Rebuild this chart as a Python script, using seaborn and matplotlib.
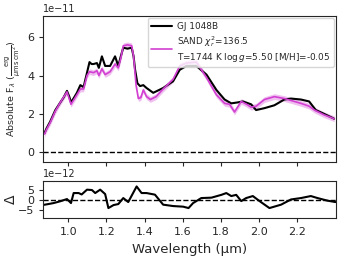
import numpy as np
import pandas as pd
import matplotlib
matplotlib.use('Agg')
import matplotlib.pyplot as plt
import seaborn as sns

# observed spectrum (flux in erg/um/s/cm2)
wave_obs = [0.875, 0.886, 0.905, 0.932, 0.958, 0.975, 0.993, 1.005, 1.014, 1.03,
            1.045, 1.063, 1.08, 1.098, 1.111, 1.122, 1.132, 1.15, 1.16, 1.176,
            1.193, 1.219, 1.232, 1.245, 1.262, 1.275, 1.288, 1.31, 1.332, 1.342,
            1.35, 1.362, 1.376, 1.393, 1.41, 1.445, 1.497, 1.549, 1.584, 1.619,
            1.671, 1.724, 1.776, 1.819, 1.854, 1.888, 1.915, 1.958, 1.984, 2.028,
            2.08, 2.132, 2.167, 2.219, 2.262, 2.297, 2.341, 2.393]
flux_obs = [1.0, 1.25, 1.6, 2.2, 2.6, 2.85, 3.2, 2.9, 2.6, 2.85,
            3.1, 3.5, 3.4, 4.15, 4.7, 4.6, 4.6, 4.65, 4.4, 5.0,
            4.5, 4.5, 4.75, 5.0, 4.5, 5.0, 5.45, 5.4, 5.45, 5.0,
            4.3, 3.6, 3.45, 3.5, 3.35, 3.1, 3.35, 3.7, 4.3, 4.5,
            4.5, 4.05, 3.25, 2.75, 2.55, 2.6, 2.65, 2.5, 2.2, 2.3,
            2.45, 2.75, 2.8, 2.75, 2.65, 2.2, 2.0, 1.75]

# best fit SAND model
wave_mod = [0.875, 0.886, 0.905, 0.932, 0.958, 0.993, 1.014, 1.045, 1.063, 1.08,
            1.098, 1.111, 1.132, 1.15, 1.16, 1.176, 1.193, 1.219, 1.245, 1.262,
            1.275, 1.288, 1.31, 1.332, 1.342, 1.355, 1.367, 1.38, 1.393, 1.41,
            1.43, 1.46, 1.497, 1.549, 1.584, 1.619, 1.671, 1.724, 1.776, 1.819,
            1.845, 1.871, 1.906, 1.935, 1.958, 1.984, 2.028, 2.08, 2.132, 2.167,
            2.219, 2.262, 2.29, 2.341, 2.393]
flux_mod = [0.95, 1.2, 1.55, 2.15, 2.6, 3.15, 2.5, 3.0, 3.3, 3.3,
            4.0, 4.2, 4.15, 4.25, 4.0, 4.35, 4.05, 4.2, 4.6, 4.4,
            4.9, 5.55, 5.6, 5.55, 5.0, 3.5, 2.8, 2.85, 3.25, 2.9,
            2.75, 2.9, 3.3, 3.8, 4.5, 4.65, 4.7, 3.9, 3.0, 2.55,
            2.5, 2.1, 2.65, 2.5, 2.35, 2.4, 2.75, 2.9, 2.8, 2.7,
            2.55, 2.4, 2.2, 1.95, 1.75]

# residuals (1e-12)
wave_res = [0.871, 0.895, 0.923, 0.958, 0.993, 1.014, 1.028, 1.054, 1.07, 1.098,
            1.124, 1.141, 1.167, 1.193, 1.21, 1.237, 1.262, 1.288, 1.314, 1.358,
            1.384, 1.41, 1.454, 1.497, 1.55, 1.602, 1.63, 1.654, 1.697, 1.75,
            1.802, 1.828, 1.854, 1.88, 1.906, 1.932, 1.967, 2.002, 2.054, 2.115,
            2.167, 2.219, 2.271, 2.306, 2.358, 2.4]
resid = [-2.4, -2.0, -1.5, -0.6, 0.5, -1.5, 3.5, 3.5, 2.8, 5.2,
         5.0, 3.5, 5.2, 3.0, -4.0, -2.5, -2.0, 1.0, -1.0, 6.8,
         3.5, 3.5, 2.7, -2.3, -3.0, -3.3, -4.0, -1.5, 1.0, 1.2,
         2.6, 3.5, 2.0, 2.6, -0.5, 1.0, 2.0, -0.5, -4.0, -2.3,
         0.3, 1.0, 2.0, 1.0, -0.3, -1.0]

obs = pd.DataFrame({'wave': wave_obs, 'flux': np.array(flux_obs) * 1e-11})
mod = pd.DataFrame({'wave': wave_mod, 'flux': np.array(flux_mod) * 1e-11})
res = pd.DataFrame({'wave': wave_res, 'resid': np.array(resid) * 1e-12})

sns.set_style('ticks')
plt.rcParams['font.family'] = ['DejaVu Sans']

magenta = '#d23fd2'

fig = plt.figure(figsize=(3.45, 2.59), dpi=100)
ax = fig.add_axes([0.125, 0.375, 0.849, 0.563])
axr = fig.add_axes([0.125, 0.158, 0.849, 0.143], sharex=ax)

# model uncertainty band
ax.fill_between(mod['wave'], mod['flux'] - 0.15e-11, mod['flux'] + 0.15e-11,
                color='#e9a6e9', alpha=0.7, lw=0)
sns.lineplot(data=obs, x='wave', y='flux', ax=ax, color='black', lw=1.5,
             label='GJ 1048B')
sns.lineplot(data=mod, x='wave', y='flux', ax=ax, color=magenta, lw=1.2,
             label='SAND $\\chi^2_r$=136.5\nT=1744 K log$\\,g$=5.50 [M/H]=-0.05')
ax.axhline(0, color='black', ls='--', lw=1)
ax.set_ylim(-0.5e-11, 7.1e-11)
ax.set_yticks([0, 2e-11, 4e-11, 6e-11])
ax.set_xlabel('')
ax.set_ylabel(r'Absolute F$_\lambda$ ($\frac{\mathrm{erg}}{\mu\mathrm{m\,s\,cm^2}}$)',
              fontsize=6.8)
ax.yaxis.set_label_coords(-0.07, 0.5)
ax.tick_params(labelbottom=False, labelsize=8, length=3)
ax.yaxis.get_offset_text().set_fontsize(7)
ax.legend(loc='upper right', fontsize=6.4, handlelength=2.3,
          borderaxespad=0.25, labelspacing=0.35, handletextpad=0.6)

sns.lineplot(data=res, x='wave', y='resid', ax=axr, color='black', lw=1.5)
axr.axhline(0, color='black', ls='--', lw=1)
axr.set_ylim(-9e-12, 9.5e-12)
axr.set_yticks([-5e-12, 0, 5e-12])
axr.set_xlim(0.868, 2.403)
axr.set_xticks([1.0, 1.2, 1.4, 1.6, 1.8, 2.0, 2.2])
axr.set_xlabel('Wavelength (µm)', fontsize=9.5)
axr.set_ylabel('Δ', fontsize=10)
axr.yaxis.set_label_coords(-0.085, 0.5)
axr.tick_params(labelsize=8, length=3)
axr.yaxis.get_offset_text().set_fontsize(7)

fig.savefig('out.png', dpi=100)
